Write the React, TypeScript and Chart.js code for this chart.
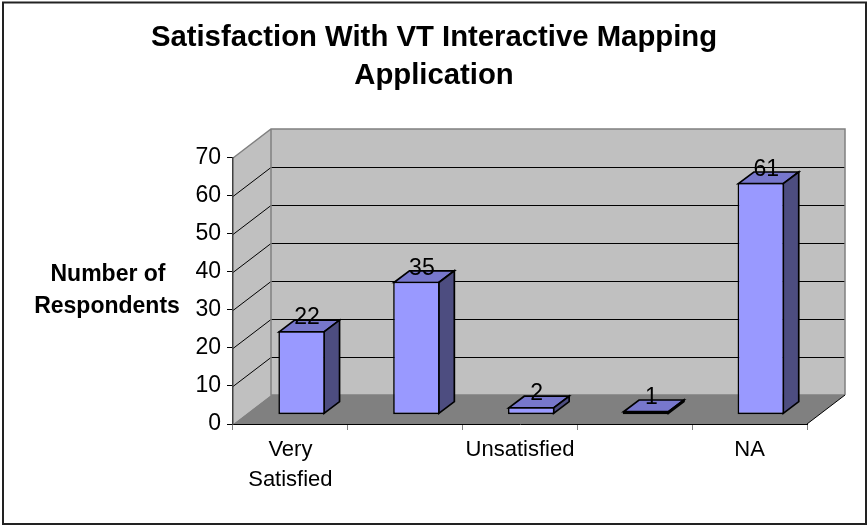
import React, { useEffect, useRef } from "react";
import { Chart, registerables } from "chart.js";

Chart.register(...registerables);

const categories: (string | string[])[] = [["Very", "Satisfied"], "", "Unsatisfied", "", "NA"];
const respondents = [22, 35, 2, 1, 61];
const titleLines = ["Satisfaction With VT Interactive Mapping", "Application"];
const axisTitleLines = ["Number of", "Respondents"];

const FONT = "'Liberation Sans', Arial, sans-serif";
const DEPTH_X = 38;
const DEPTH_Y = 29;
const BAR_SHIFT_X = 11.2;
const BAR_SHIFT_Y = 9.3;
const BAR_DEPTH_X = 15.5;
const BAR_DEPTH_Y = 11.7;

function poly(ctx: CanvasRenderingContext2D, pts: number[][], fill?: string, stroke?: string, lw = 1) {
  ctx.beginPath();
  pts.forEach((p, i) => (i ? ctx.lineTo(p[0], p[1]) : ctx.moveTo(p[0], p[1])));
  ctx.closePath();
  if (fill) {
    ctx.fillStyle = fill;
    ctx.fill();
  }
  if (stroke) {
    ctx.strokeStyle = stroke;
    ctx.lineWidth = lw;
    ctx.lineJoin = "miter";
    ctx.stroke();
  }
}

const walls3D = {
  id: "walls3D",
  beforeDraw(chart: any) {
    const { ctx, chartArea: a, scales } = chart;
    const { left: l, right: r, top: t, bottom: b } = a;
    ctx.save();
    ctx.fillStyle = "#ffffff";
    ctx.fillRect(0, 0, chart.width, chart.height);
    ctx.strokeStyle = "#222222";
    ctx.lineWidth = 2;
    ctx.strokeRect(3, 2.5, 863, 521.5);
    const dx = DEPTH_X;
    const dy = DEPTH_Y;
    poly(ctx, [[l + dx, t - dy], [r + dx, t - dy], [r + dx, b - dy], [l + dx, b - dy]], "#c0c0c0");
    poly(ctx, [[l, t], [l + dx, t - dy], [l + dx, b - dy], [l, b]], "#c0c0c0");
    poly(ctx, [[l, b], [l + dx, b - dy], [r + dx, b - dy], [r, b]], "#808080");
    ctx.strokeStyle = "#000000";
    ctx.lineWidth = 1;
    scales.y.ticks.forEach((tick: any) => {
      if (tick.value === 0 || tick.value === scales.y.max) return;
      const y = Math.round(scales.y.getPixelForValue(tick.value)) + 0.5;
      ctx.beginPath();
      ctx.moveTo(l, y);
      ctx.lineTo(l + dx, y - dy);
      ctx.lineTo(r + dx, y - dy);
      ctx.stroke();
    });
    ctx.strokeStyle = "#808080";
    ctx.lineWidth = 1.5;
    ctx.beginPath();
    ctx.moveTo(l, t);
    ctx.lineTo(l + dx, t - dy);
    ctx.lineTo(r + dx, t - dy);
    ctx.lineTo(r + dx, b - dy);
    ctx.moveTo(l + dx, t - dy);
    ctx.lineTo(l + dx, b - dy);
    ctx.lineTo(r + dx, b - dy);
    ctx.stroke();
    ctx.strokeStyle = "#000000";
    ctx.lineWidth = 1;
    ctx.beginPath();
    ctx.moveTo(r, b);
    ctx.lineTo(r + dx, b - dy);
    ctx.stroke();
    ctx.restore();
  },
};

const bars3D = {
  id: "bars3D",
  beforeDatasetsDraw(chart: any) {
    const { ctx } = chart;
    const meta = chart.getDatasetMeta(0);
    ctx.save();
    ctx.translate(BAR_SHIFT_X, -BAR_SHIFT_Y);
    meta.data.forEach((bar: any) => {
      const { x, y, base, width } = bar.getProps(["x", "y", "base", "width"], true);
      const xr = x + width / 2 - 0.8;
      const xl = x - width / 2 + 0.8;
      const yt = y + 0.8;
      const yb = base - 0.8;
      poly(ctx, [[xl, yt], [xl + BAR_DEPTH_X, yt - BAR_DEPTH_Y], [xr + BAR_DEPTH_X, yt - BAR_DEPTH_Y], [xr, yt]], "#7777cc", "#000000", 1.7);
      poly(ctx, [[xr, yt], [xr + BAR_DEPTH_X, yt - BAR_DEPTH_Y], [xr + BAR_DEPTH_X, yb - BAR_DEPTH_Y], [xr, yb]], "#4d4d80", "#000000", 1.7);
    });
  },
  afterDatasetsDraw(chart: any) {
    const { ctx } = chart;
    ctx.restore();
    const meta = chart.getDatasetMeta(0);
    ctx.save();
    ctx.fillStyle = "#000000";
    ctx.font = `23px ${FONT}`;
    ctx.textAlign = "center";
    ctx.textBaseline = "alphabetic";
    meta.data.forEach((bar: any, i: number) => {
      const { x, y } = bar.getProps(["x", "y"], true);
      ctx.fillText(String(respondents[i]), x + BAR_SHIFT_X + 5.5, y - BAR_SHIFT_Y - 7);
    });
    ctx.restore();
  },
  afterDraw(chart: any) {
    const { ctx } = chart;
    ctx.save();
    ctx.fillStyle = "#000000";
    ctx.font = `bold 23px ${FONT}`;
    ctx.textAlign = "center";
    ctx.textBaseline = "alphabetic";
    ctx.fillText(axisTitleLines[0], 108, 281);
    ctx.fillText(axisTitleLines[1], 107, 313);
    ctx.restore();
  },
};

export default function App() {
  const ref = useRef<HTMLCanvasElement>(null);
  useEffect(() => {
    if (!ref.current) return;
    const chart = new Chart(ref.current, {
      type: "bar",
      plugins: [walls3D, bars3D],
      data: {
        labels: categories as any,
        datasets: [
          {
            label: "Number of Respondents",
            data: respondents,
            backgroundColor: "#9999ff",
            borderColor: "#000000",
            borderWidth: 1.6,
            borderSkipped: false,
            barPercentage: 0.405,
            categoryPercentage: 1,
            clip: false as any,
          },
        ],
      },
      options: {
        responsive: false,
        animation: false,
        layout: { padding: { left: 0, right: 0, top: 0, bottom: 31 } },
        plugins: {
          legend: { display: false },
          tooltip: { enabled: false },
          title: {
            display: true,
            text: titleLines,
            color: "#000000",
            font: { family: FONT, size: 29.3, weight: "bold", lineHeight: 1.3 },
            padding: { top: 19, bottom: 62.8 },
          },
        },
        scales: {
          x: {
            grid: { display: true, drawOnChartArea: false, drawTicks: true, tickLength: 6, color: "#808080", offset: true },
            border: { display: true, color: "#000000", width: 1 },
            ticks: {
              color: "#000000",
              maxRotation: 0,
              autoSkip: false,
              padding: 5,
              font: { family: FONT, size: 22, lineHeight: 1.36 },
            },
            afterFit: (s: any) => {
              s.height = 70;
            },
          },
          y: {
            min: 0,
            max: 70,
            grid: { display: true, drawOnChartArea: false, drawTicks: true, tickLength: 6, color: "#000000" },
            border: { display: true, color: "#404040", width: 1.5 },
            ticks: {
              stepSize: 10,
              color: "#000000",
              padding: 6,
              font: { family: FONT, size: 23 },
            },
            afterFit: (s: any) => {
              s.width = 233;
            },
          },
          gutter: {
            position: "right",
            display: true,
            grid: { display: false },
            border: { display: false },
            ticks: { display: false },
            afterFit: (s: any) => {
              s.width = 61;
            },
          },
        },
      } as any,
    });
    return () => chart.destroy();
  }, []);
  return (
    <canvas
      ref={ref}
      width={868}
      height={525}
      style={{ position: "fixed", left: 0, top: 0, display: "block" }}
    />
  );
}
